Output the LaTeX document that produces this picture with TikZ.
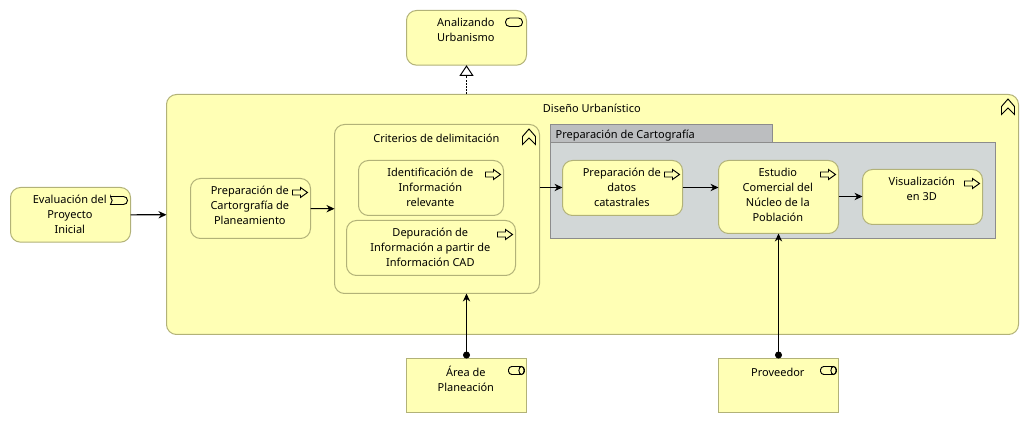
\documentclass[tikz,border=0pt]{standalone}
\usepackage{fontspec}
\setmainfont{Noto Sans}
\usepackage{xcolor}
\usetikzlibrary{arrows.meta,positioning}
\definecolor{bizfill}{RGB}{255,255,181}
\definecolor{bizline}{RGB}{178,178,120}
\definecolor{groupfill}{RGB}{210,215,215}
\definecolor{tabfill}{RGB}{188,190,192}
\definecolor{groupline}{RGB}{140,140,140}
\begin{document}
\begin{tikzpicture}[x=0.75pt,y=-0.75pt,
            elem/.style = {draw=bizline,
                        fill=bizfill,
                        line width=0.75pt,
                        rounded corners=7.5pt,
                        inner sep=0pt,
                        outer sep=0pt,
                        anchor=north west},
            rolebox/.style = {elem,sharp corners},
            groupbox/.style = {elem,sharp corners,
                        draw=groupline,
                        fill=groupfill},
            grouptab/.style = {groupbox,fill=tabfill},
            lbl/.style = {inner sep=0pt,
                        align=center,
                        anchor=north,
                        xshift=-0.5pt,
                        font=\fontsize{8.25}{11.25}\selectfont,
                        execute at begin node=\strut},
            flow/.style = {line width=0.8pt,-{Stealth[length=6pt,width=5.5pt]}},
            assign/.style = {line width=0.8pt,
                        {Circle[length=5.2pt]}-{Stealth[length=6pt,width=5.5pt]}},
            realize/.style = {line width=0.75pt,
                        dash pattern=on 1.5pt off 0.9pt,
                        -{Triangle[open,fill=white,length=8pt,width=10.5pt]}},
            icon/.style = {draw=black,line width=0.7pt,fill=bizfill},
            procicon/.pic = {\draw[icon,line join=miter]
                        (-18,11.5) -- (-10,11.5) -- (-10,9) -- (-3,14) -- (-10,19)
                        -- (-10,16.5) -- (-18,16.5) -- cycle;},
            funcicon/.pic = {\draw[icon,line join=miter]
                        (-17,20) -- (-17,12) -- (-10.5,4.5) -- (-4,12) -- (-4,20)
                        -- (-10.5,13.5) -- cycle;},
            serviceicon/.pic = {\draw[icon,rounded corners=3pt]
                        (-21,7.5) rectangle (-4,16);},
            eventicon/.pic = {\draw[icon]
                        (-20,9) -- (-7,9) arc[start angle=-90,end angle=90,radius=4]
                        -- (-20,17) arc[start angle=45,end angle=-45,radius=5.66] -- cycle;},
            roleicon/.pic = {\draw[icon,rounded corners=2.5pt]
                        (-18,8) rectangle (-2,16);
                        \draw[icon] (-5,12) ellipse[x radius=2.6,y radius=4];}]
            \useasboundingbox (-0.5,-0.5) rectangle (1028.5,422.5);
            % Main function
            \node[elem,minimum width=639pt,minimum height=180pt] (diseno) at (166,94) {};
            \node[lbl,below=5.25pt of diseno.north] (disenotxt) {Diseño Urbanístico};
            \pic at (diseno.north east) {funcicon};
            % Service on top
            \node[elem,minimum width=90pt,minimum height=41pt] (analizando) at (406,10) {};
            \node[lbl,below=5.25pt of analizando.north] (analizandotxt) {Analizando\\Urbanismo};
            \pic at (analizando.north east) {serviceicon};
            % Event on the left
            \node[elem,minimum width=90pt,minimum height=41pt] (evaluacion) at (10,187) {};
            \node[lbl,below=5.25pt of evaluacion.north] (evaluaciontxt) {Evaluación del\\Proyecto\\Inicial};
            \pic at (evaluacion.north east) {eventicon};
            % First process
            \node[elem,minimum width=90pt,minimum height=45pt] (cartografia) at (190,178) {};
            \node[lbl,below=5.25pt of cartografia.north] (cartografiatxt) {Preparación de\\Cartorgrafía de\\Planeamiento};
            \pic at (cartografia.north east) {procicon};
            % Nested function
            \node[elem,minimum width=153.75pt,minimum height=126.75pt] (criterios) at (334,124) {};
            \node[lbl,below=5.25pt of criterios.north] (criteriostxt) {Criterios de delimitación};
            \pic at (criterios.north east) {funcicon};
            \node[elem,minimum width=108.75pt,minimum height=41.25pt] (identificacion) at (358,160) {};
            \node[lbl,below=5.25pt of identificacion.north] (identificaciontxt) {Identificación de\\Información\\relevante};
            \pic at (identificacion.north east) {procicon};
            \node[elem,minimum width=126.75pt,minimum height=41.25pt] (depuracion) at (346,220) {};
            \node[lbl,below=5.25pt of depuracion.north] (depuraciontxt) {Depuración de\\Información a partir de\\Información CAD};
            \pic at (depuracion.north east) {procicon};
            % Grouping
            \node[grouptab,minimum width=166.5pt,minimum height=13.5pt] (grupotab) at (550,124) {};
            \node[groupbox,minimum width=333.75pt,minimum height=72pt] (grupo) at (550,142) {};
            \node[lbl,anchor=north west] (grupotxt) at (555.5,127) {Preparación de Cartografía};
            % Processes in the group
            \node[elem,minimum width=90pt,minimum height=41.25pt] (datos) at (562,160) {};
            \node[lbl,below=5.25pt of datos.north] (datostxt) {Preparación de\\datos\\catastrales};
            \pic at (datos.north east) {procicon};
            \node[elem,minimum width=90pt,minimum height=54.75pt] (estudio) at (718,160) {};
            \node[lbl,below=5.25pt of estudio.north] (estudiotxt) {Estudio\\Comercial del\\Núcleo de la\\Población};
            \pic at (estudio.north east) {procicon};
            \node[elem,minimum width=90pt,minimum height=41.25pt] (visual) at (862,169) {};
            \node[lbl,below=5.25pt of visual.north] (visualtxt) {Visualización\\en 3D};
            \pic at (visual.north east) {procicon};
            % Roles at the bottom
            \node[rolebox,minimum width=90pt,minimum height=40.5pt] (area) at (406,358) {};
            \node[lbl,below=5.25pt of area.north] (areatxt) {Área de\\Planeación};
            \pic at (area.north east) {roleicon};
            \node[rolebox,minimum width=90pt,minimum height=40.5pt] (proveedor) at (718,358) {};
            \node[lbl,below=5.25pt of proveedor.north] (proveedortxt) {Proveedor};
            \pic at (proveedor.north east) {roleicon};
            % Connectors
            \draw[realize] (diseno.north -| analizando.south) -- (analizando.south);
            \draw[flow] (evaluacion) -- (diseno);
            \draw[flow] (cartografia) -- (criterios);
            \draw[flow] ([yshift=0.375pt]datos.west -| criterios.east) -- ([yshift=0.375pt]datos.west);
            \draw[flow] ([yshift=0.375pt]datos.east) -- ([yshift=0.375pt]datos.east -| estudio.west);
            \draw[flow] ([yshift=0.375pt]estudio.east) -- ([yshift=0.375pt]visual.west);
            \draw[assign] (area.north) -- (area.north |- criterios.south);
            \draw[assign] (proveedor.north) -- (estudio.south);
        \end{tikzpicture}
\end{document}
